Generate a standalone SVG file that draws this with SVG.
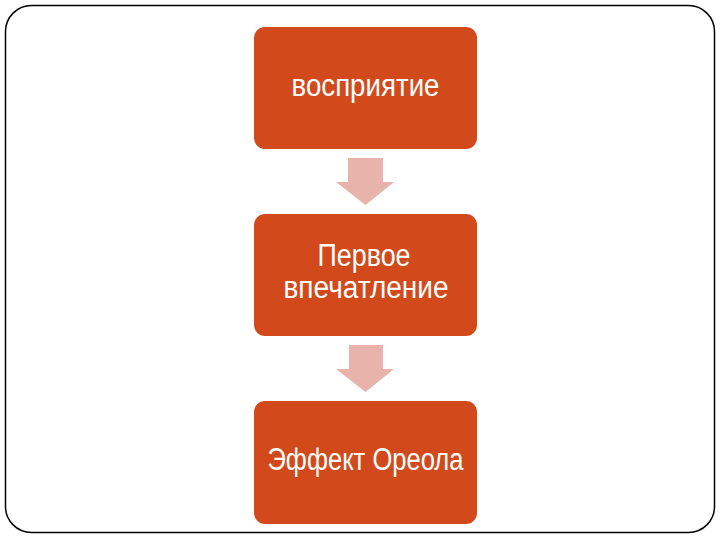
<svg xmlns="http://www.w3.org/2000/svg" width="720" height="540" viewBox="0 0 720 540">
<style>
.box{fill:#D24A1B;}
.arr{fill:#E8B3AB;}
.t{font-family:"Liberation Sans","DejaVu Sans",sans-serif;font-size:31px;fill:#FFFFFF;text-anchor:middle;}
</style>
<rect x="0" y="0" width="720" height="540" fill="#FFFFFF"/>
<rect x="5.5" y="5.5" width="709" height="527" rx="26" ry="26" fill="none" stroke="#000" stroke-width="1.5"/>
<g id="connectors">
<path class="arr" d="M348,158 H383 V182 H394 L365.5,205 L336,182 H348 Z"/>
<path class="arr" d="M349,345 H383 V369 H394 L365.5,392 L336,369 H349 Z"/>
</g>
<g id="n1">
<rect class="box" x="254" y="27" width="223" height="122" rx="11"/>
<text class="t" x="365.5" y="96" textLength="148" lengthAdjust="spacingAndGlyphs">восприятие</text>
</g>
<g id="n2">
<rect class="box" x="254" y="214" width="223" height="122" rx="11"/>
<text class="t" x="364" y="266" textLength="93" lengthAdjust="spacingAndGlyphs">Первое</text>
<text class="t" x="366" y="298" textLength="165" lengthAdjust="spacingAndGlyphs">впечатление</text>
</g>
<g id="n3">
<rect class="box" x="254" y="401" width="223" height="123" rx="11"/>
<text class="t" x="365.5" y="470" textLength="196" lengthAdjust="spacingAndGlyphs">Эффект Ореола</text>
</g>
</svg>
